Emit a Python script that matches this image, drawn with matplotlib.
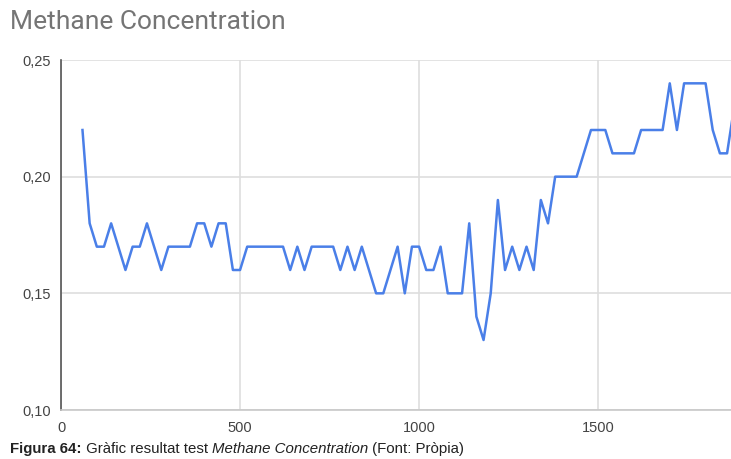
import matplotlib
matplotlib.use("Agg")
import matplotlib.pyplot as plt

# Methane concentration readings (one every 20 samples)
time_x = [60, 80, 100, 120, 140, 160, 180, 200, 220, 240,
          260, 280, 300, 320, 340, 360, 380, 400, 420, 440,
          460, 480, 500, 520, 540, 560, 580, 600, 620, 640,
          660, 680, 700, 720, 740, 760, 780, 800, 820, 840,
          860, 880, 900, 920, 940, 960, 980, 1000, 1020, 1040,
          1060, 1080, 1100, 1120, 1140, 1160, 1180, 1200, 1220, 1240,
          1260, 1280, 1300, 1320, 1340, 1360, 1380, 1400, 1420, 1440,
          1460, 1480, 1500, 1520, 1540, 1560, 1580, 1600, 1620, 1640,
          1660, 1680, 1700, 1720, 1740, 1760, 1780, 1800, 1820, 1840,
          1860, 1880]
methane = [0.22, 0.18, 0.17, 0.17, 0.18, 0.17, 0.16, 0.17, 0.17, 0.18,
           0.17, 0.16, 0.17, 0.17, 0.17, 0.17, 0.18, 0.18, 0.17, 0.18,
           0.18, 0.16, 0.16, 0.17, 0.17, 0.17, 0.17, 0.17, 0.17, 0.16,
           0.17, 0.16, 0.17, 0.17, 0.17, 0.17, 0.16, 0.17, 0.16, 0.17,
           0.16, 0.15, 0.15, 0.16, 0.17, 0.15, 0.17, 0.17, 0.16, 0.16,
           0.17, 0.15, 0.15, 0.15, 0.18, 0.14, 0.13, 0.15, 0.19, 0.16,
           0.17, 0.16, 0.17, 0.16, 0.19, 0.18, 0.20, 0.20, 0.20, 0.20,
           0.21, 0.22, 0.22, 0.22, 0.21, 0.21, 0.21, 0.21, 0.22, 0.22,
           0.22, 0.22, 0.24, 0.22, 0.24, 0.24, 0.24, 0.24, 0.22, 0.21,
           0.21, 0.23]

x_ticks = [0, 500, 1000, 1500]
y_ticks = [0.10, 0.15, 0.20, 0.25]
y_labels = ["0,10", "0,15", "0,20", "0,25"]

W, H = 731, 459
fig = plt.figure(figsize=(W / 100, H / 100), dpi=100)
ax = fig.add_axes([61 / W, 1 - 410 / H, 1 - 61 / W, 350 / H])

ax.plot(time_x, methane, color="#4a7fe8", linewidth=1.8, clip_on=True)
ax.set_xlim(0, 1871)
ax.set_ylim(0.10, 0.25)

ax.set_xticks(x_ticks)
ax.set_xticklabels([str(t) for t in x_ticks])
ax.set_yticks(y_ticks)
ax.set_yticklabels(y_labels)
ax.tick_params(length=0, labelsize=10.5, labelcolor="#444444")
ax.tick_params(axis="x", pad=8)
ax.tick_params(axis="y", pad=7)
for lab in ax.get_xticklabels() + ax.get_yticklabels():
    lab.set_fontfamily("Liberation Sans")

ax.grid(True, color="#dedede", linewidth=1.2)
ax.set_axisbelow(True)
for s in ["top", "right"]:
    ax.spines[s].set_visible(False)
ax.spines["left"].set_color("#555555")
ax.spines["left"].set_linewidth(1.2)
ax.spines["bottom"].set_color("#c8c8c8")
ax.spines["bottom"].set_linewidth(1.2)

fig.text(10 / W, 1 - 22 / H, "Methane Concentration", fontsize=19,
         color="#757575", family="Roboto", va="center", ha="left")

# caption built from pieces with different styles
renderer = fig.canvas.get_renderer()
pieces = [("Figura 64:", "bold", "normal"),
          (" Gràfic resultat test ", "normal", "normal"),
          ("Methane Concentration", "normal", "italic"),
          (" (Font: Pròpia)", "normal", "normal")]
xpos = 10
for txt, weight, style in pieces:
    t = fig.text(xpos / W, 1 - 449 / H, txt, fontsize=10.8, color="#222222",
                 family="Liberation Sans", weight=weight, style=style,
                 va="center", ha="left")
    bb = t.get_window_extent(renderer)
    xpos += bb.width

fig.savefig("out.png", dpi=100)
